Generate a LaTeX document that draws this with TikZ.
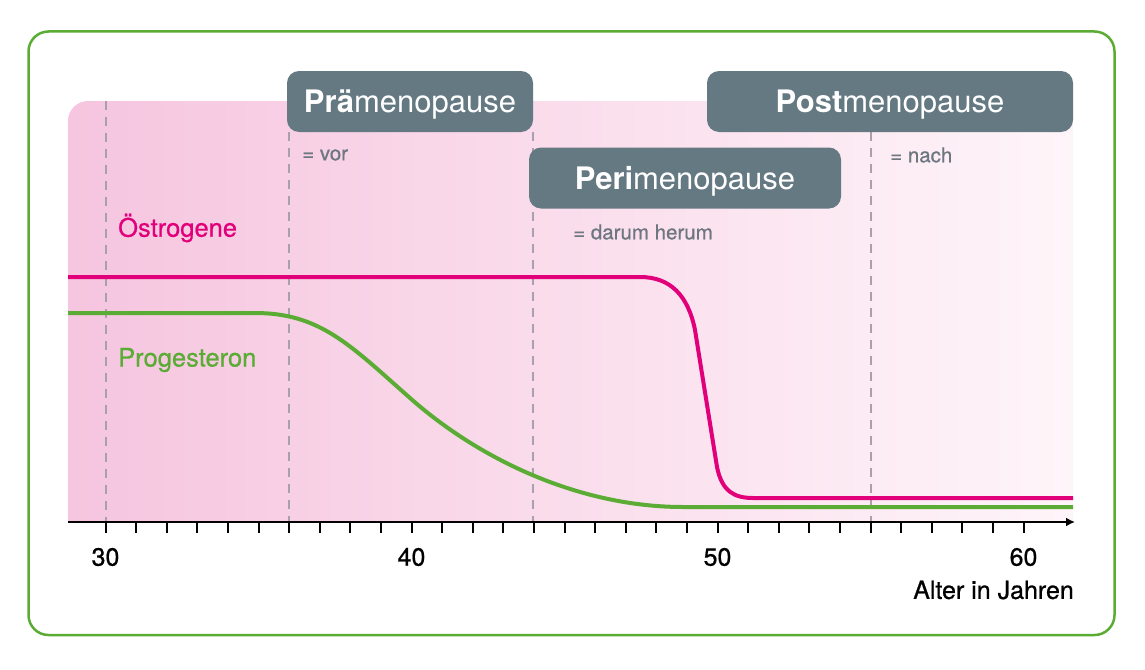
\documentclass[tikz,border=0pt]{standalone}
\usepackage{fontspec}
\setmainfont{TeX Gyre Heros}
\newfontfamily\medfont[FakeBold=0.7]{TeX Gyre Heros}
\usetikzlibrary{arrows.meta}

\definecolor{framegreen}{RGB}{90,172,52}
\definecolor{estromag}{RGB}{226,0,122}
\definecolor{phasegray}{RGB}{101,121,131}
\definecolor{hintgray}{RGB}{110,118,128}
\definecolor{dashgray}{RGB}{168,160,170}
\definecolor{pinkleft}{RGB}{246,197,223}
\definecolor{pinkmid}{RGB}{249,219,234}
\definecolor{pinkright}{RGB}{254,245,249}

\tikzset{
  phasebox/.style={rectangle, rounded corners=12pt, fill=phasegray,
    text=white, inner sep=0pt, minimum height=61pt, text depth=0pt,
    font=\fontsize{31}{37}\selectfont},
  hintlabel/.style={anchor=west, inner sep=0pt, text=hintgray,
    font=\medfont\fontsize{20.5}{24}\selectfont},
  curvelabel/.style={anchor=west, inner sep=0pt,
    font=\medfont\fontsize{25.5}{30}\selectfont},
  agelabel/.style={inner sep=0pt, font=\medfont\fontsize{25}{30}\selectfont},
  phaseline/.style={dashgray, line width=2pt, dash pattern=on 9pt off 7pt}
}

\begin{document}
\begin{tikzpicture}[x=1pt, y=-1pt]
  \useasboundingbox (0,0) rectangle (1145,669);

  % frame
  \draw [framegreen, line width=2.5pt, rounded corners=20pt]
    (28.5,31.5) rectangle (1114.5,635);

  % pink background
  \shade [left color=pinkleft, middle color=pinkmid, right color=pinkright]
    (68,522) [rounded corners=20pt] -- (68,101) [sharp corners] -- (1073,101)
    -- (1073,522) -- cycle;

  % phase borders
  \draw [phaseline] (105.5,101) -- (105.5,522);
  \draw [phaseline] (289,132) -- (289,522);
  \draw [phaseline] (533,132) -- (533,522);
  \draw [phaseline] (871,132) -- (871,522);

  % phases
  \node [phasebox, minimum width=246pt] (prae) at (410,101.5)
    {\textbf{Prä}menopause};
  \node [phasebox, minimum width=366pt] (post) at (890,101.5)
    {\textbf{Post}menopause};
  \node [phasebox, minimum width=312pt] (peri) at (685,178)
    {\textbf{Peri}menopause};

  \node [hintlabel] (vor) at (302,155) {= vor};
  \node [hintlabel] (nach) at (890,155) {= nach};
  \node [hintlabel] (herum) at (573,232) {= darum herum};

  % hormone curves
  \node [curvelabel, text=estromag] (oestro) at (118,228) {Östrogene};
  \node [curvelabel, text=framegreen] (proges) at (118,360) {Progesteron};

  \draw [framegreen, line width=4pt]
    (68,313) -- (255,313) .. controls (320,313) and (350,345) .. (410,398)
    .. controls (480,460) and (580,507) .. (683,507) -- (1073,507);
  \draw [estromag, line width=4pt]
    (68,277) -- (640,277) .. controls (670,277) and (688,295) .. (695,330)
    -- (717,467) .. controls (722,492) and (735,498) .. (753,498) -- (1073,498);

  % axis
  \draw [line width=2pt, -{Latex[length=9pt, width=9pt]}] (68,522) -- (1075,522);
  \foreach \a in {30,...,60}
    \draw [line width=2pt] (105.5+30.6*\a-918,522) -- ++(0,11);
  \foreach \a in {30,40,50,60}
    \node [agelabel] (age\a) at (105.5+30.6*\a-918,557) {\a};
  \node [agelabel, anchor=east] (alter) at (1074,590) {Alter in Jahren};
\end{tikzpicture}
\end{document}
